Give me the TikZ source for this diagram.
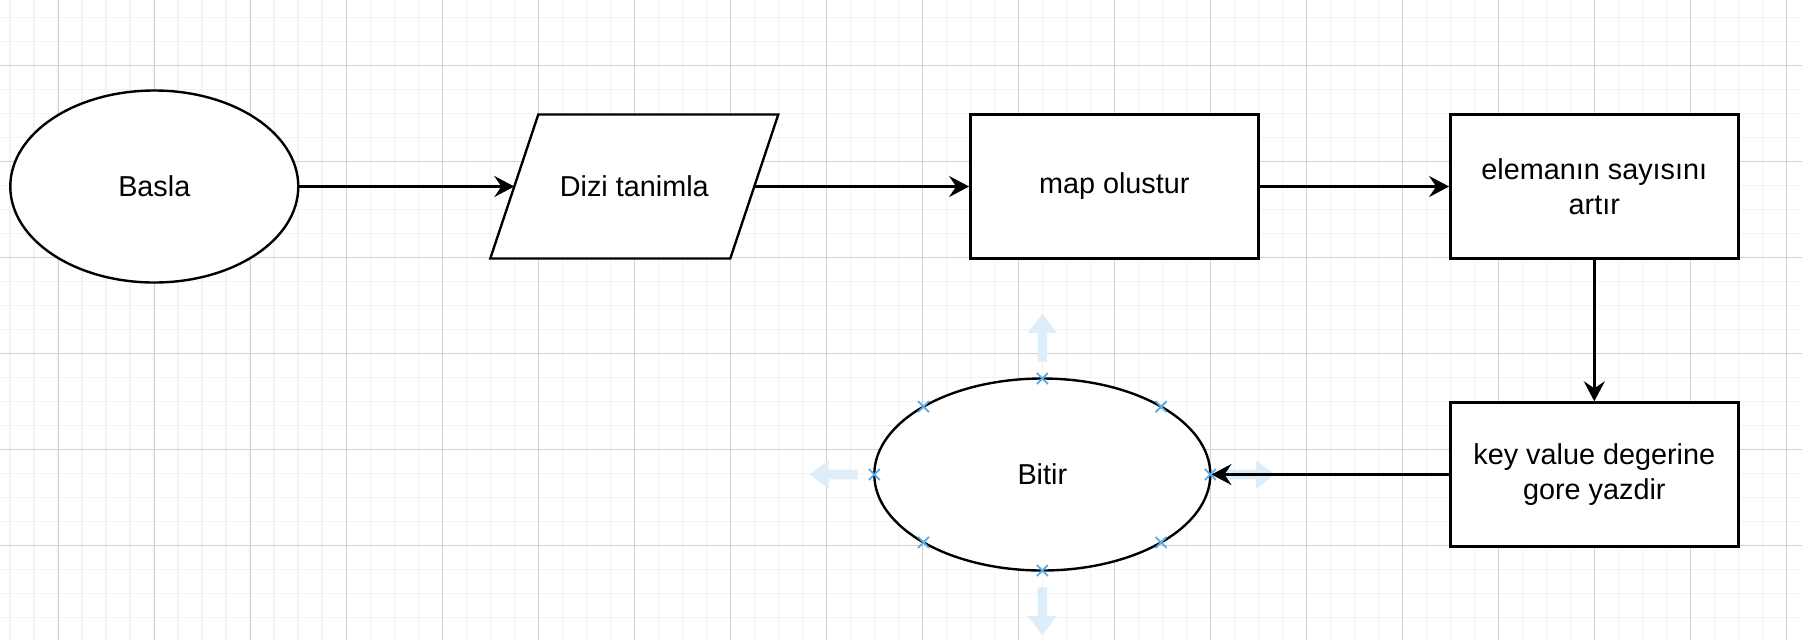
\documentclass[tikz,border=0pt]{standalone}
\usepackage{fontspec}
\setmainfont{Liberation Sans}
\usetikzlibrary{arrows.meta,shapes.geometric,shapes.misc}
\definecolor{minorgray}{HTML}{F3F3F3}
\definecolor{majorgray}{HTML}{D2D2D2}
\definecolor{hoverblue}{HTML}{DDEEFA}
\definecolor{xblue}{HTML}{5AAAE6}
\begin{document}
\begin{tikzpicture}[x=1.2pt,y=-1.2pt,
    every node/.style={font=\fontsize{14.4}{17.3}\selectfont},
    terminal/.style={draw,ellipse,line width=1.2pt,fill=white,inner sep=0pt},
    process/.style={draw,rectangle,line width=1.2pt,fill=white,minimum width=144pt,minimum height=72pt,align=center,inner sep=0pt},
    outline/.style={draw,line width=1.2pt,fill=white,line join=miter},
    arr/.style={line width=1.2pt,-{Stealth[length=10pt,width=10.5pt,inset=3.5pt]}},
    xmark/.style={draw=xblue,cross out,line width=0.9pt,minimum size=4.6pt,inner sep=0pt},
    hover/.style={fill=hoverblue}]
    \useasboundingbox (-24.29,-27.71) rectangle (726.54,238.96);
    \fill[white] (-24.29,-27.71) rectangle (726.54,238.96);
    % raster
    \foreach \gx in {-20,-10,...,720} \draw[minorgray,line width=0.8pt] (\gx,-28) -- (\gx,239);
    \foreach \gy in {-20.5,-10.5,...,239.5} \draw[minorgray,line width=0.8pt] (-25,\gy) -- (727,\gy);
    \foreach \gx in {0,40,...,720} \draw[majorgray,line width=0.5pt] (\gx,-28) -- (\gx,239);
    \foreach \gy in {-0.5,39.5,...,239.5} \draw[majorgray,line width=0.5pt] (-25,\gy) -- (727,\gy);
    % akis
    \node[terminal,minimum width=144pt,minimum height=96pt] (basla) at (40,50) {Basla};
    \draw[outline] (180,80) -- (200,20) -- (300,20) -- (280,80) -- cycle;
    \coordinate (dizi-w) at (190,50);
    \coordinate (dizi-e) at (290,50);
    \node (dizi) at (240,50) {Dizi tanimla};
    \node[process] (map) at (440,50) {map olustur};
    \node[process] (eleman) at (640,50) {elemanın sayısını\\artır};
    \node[process] (yazdir) at (640,170) {key value degerine\\gore yazdir};
    \node[terminal,minimum width=168pt,minimum height=96pt] (bitir) at (410,170) {Bitir};
    \foreach \ang/\d in {90/40,270/40,180/70,0/70}
        \fill[hover,shift={(bitir.center)},rotate=\ang] (\d+7,-2) -- (\d+19,-2) -- (\d+19,-6) -- (\d+27,0)
            -- (\d+19,6) -- (\d+19,2) -- (\d+7,2) -- cycle;
    \draw[arr] (basla) -- (dizi-w);
    \draw[arr] (dizi-e) -- (map);
    \draw[arr] (map) -- (eleman);
    \draw[arr] (eleman) -- (yazdir);
    \draw[arr] (yazdir) -- (bitir);
    \foreach \ang in {0,45,...,315}
        \node[xmark] at ([shift={(\ang:70 and 40)}]bitir.center) {};
\end{tikzpicture}
\end{document}
